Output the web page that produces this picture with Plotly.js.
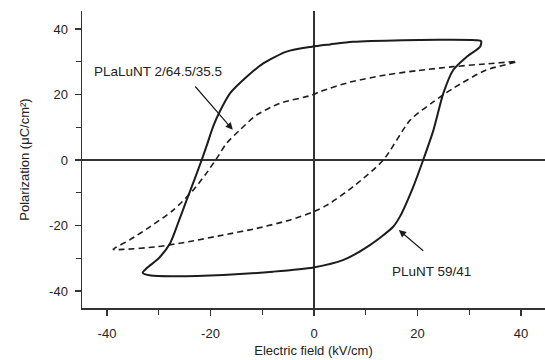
<!DOCTYPE html>
<html><head><meta charset="utf-8">
<script src="https://cdn.plot.ly/plotly-3.0.1.min.js"></script>
<style>html,body{margin:0;padding:0;background:#fff}#c{width:545px;height:360px}</style>
</head><body><div id="c"></div>
<script>
// PLuNT 59/41 (solid loop)
const pluntE = [32.3, 31.4, 24, 17.2, 7.5, 3.1, -0.4, -5.3, -9.8, -13, -16.2, -18.2, -19.5, -20.6, -21.7, -23.1, -24.6, -26.2, -27.8, -30.0, -32.3, -33.1, -31.5, -27.2, -17.5, -7.9, -0.1, 5.7, 10.8, 15.3, 16.6, 19.2, 21.1, 23.1, 25, 26.9, 29.5, 32.1, 32.3];
const pluntP = [36.3, 36.6, 36.7, 36.6, 36.1, 35.3, 34.6, 33.1, 29.5, 25.4, 20.4, 14.8, 10.2, 5.0, 0, -6.0, -12.2, -19.0, -25.4, -30.0, -33.0, -34.4, -35.3, -35.5, -35.1, -34.1, -32.8, -30.5, -26.0, -20.4, -17.3, -8.1, 0, 9.2, 20.4, 27.5, 31.5, 34.6, 36.3];
// PLaLuNT 2/64.5/35.5 (dashed loop)
const plalE = [39.2, 33, 26.9, 20, 14, 7, 1.2, -0.4, -6.6, -11.1, -14.3, -16.9, -18.8, -21.0, -23.5, -27.2, -31.7, -35.6, -38.8, -36.9, -30.4, -24, -17.5, -11.1, -4.6, -0.1, 2.5, 7.6, 13.4, 18.6, 23.1, 26.9, 33.3, 39.2];
const plalP = [30.0, 29.3, 28.5, 27.3, 26.0, 23.8, 20.9, 19.8, 17.3, 13.7, 9.2, 5.1, 0.5, -4.5, -9.5, -15.3, -20.4, -24.4, -27.3, -27.3, -26.5, -24.9, -22.9, -20.9, -18.3, -15.8, -13.8, -8.1, 0, 12.2, 17.8, 21.9, 27.5, 30.0];
const labels = ["PLaLuNT 2/64.5/35.5", "PLuNT 59/41"];
const labelPos = [[-42.9, 26.9], [14.7, -34.2]];
const arrowHead = [[-15.7, 9.2], [16.4, -21.4]];
const arrowTail = [[-23.2, 22.9], [21.4, -28.1]];
const xRange = [-44.83, 44.64];
const yRange = [-45.2, 45.5];

const ink = '#1c1c1c';
const traces = [
  {x: pluntE, y: pluntP, mode: 'lines', line: {color: ink, width: 2, shape: 'spline', smoothing: 0.7}, hoverinfo: 'skip'},
  {x: plalE, y: plalP, mode: 'lines', line: {color: ink, width: 1.6, dash: '6px,4px', shape: 'spline', smoothing: 0.7}, hoverinfo: 'skip'}
];
const fnt = {family: 'Liberation Sans, Arial, sans-serif', size: 13, color: '#222'};
const annotations = [];
for (let i = 0; i < labels.length; i++) {
  annotations.push({x: labelPos[i][0], y: labelPos[i][1], xref: 'x', yref: 'y', text: labels[i], showarrow: false, xanchor: 'left', yanchor: 'middle', font: {family: fnt.family, size: 13.5, color: '#222'}});
  annotations.push({x: arrowHead[i][0], y: arrowHead[i][1], ax: arrowTail[i][0], ay: arrowTail[i][1], xref: 'x', yref: 'y', axref: 'x', ayref: 'y', text: '', showarrow: true, arrowhead: 2, arrowsize: 1.2, arrowwidth: 1.2, arrowcolor: ink});
}
const baseAxis = {showgrid: false, showline: true, linecolor: '#333', linewidth: 1.5, ticks: 'outside', ticklen: 6, tickwidth: 1.2, tickcolor: '#333', dtick: 20, tick0: 0, zeroline: true, zerolinecolor: '#333', zerolinewidth: 1.5, tickfont: fnt, minor: {dtick: 10, tick0: 0, ticks: 'outside', ticklen: 5, tickcolor: '#333', tickwidth: 1.2}};
const layout = {
  width: 545, height: 360,
  margin: {l: 82, r: 0, t: 11, b: 52},
  paper_bgcolor: '#fff', plot_bgcolor: '#fff',
  showlegend: false,
  xaxis: Object.assign({}, baseAxis, {range: xRange, tickvals: [-40, -20, 0, 20, 40], ticktext: ['-40', '-20', '0', '20', '40'], ticklabelstandoff: 7, title: {text: 'Electric field (kV/cm)', font: fnt, standoff: 6}}),
  yaxis: Object.assign({}, baseAxis, {range: yRange, tickvals: [-40, -20, 0, 20, 40], ticktext: ['-40', '-20', '0', '20', '40'], ticklabelstandoff: 4, title: {text: 'Polarization (μC/cm²)', font: fnt, standoff: 16}}),
  xaxis2: {overlaying: 'x', side: 'top', range: xRange, showgrid: false, zeroline: false, showline: true, linecolor: '#333', linewidth: 1.5, ticks: 'inside', ticklen: 5, tickwidth: 1.2, tickcolor: '#333', dtick: 10, tick0: 0, showticklabels: false},
  yaxis2: {overlaying: 'y', side: 'right', range: yRange, showgrid: false, zeroline: false, showline: true, linecolor: '#333', linewidth: 1.5, ticks: 'inside', ticklen: 5, tickwidth: 1.2, tickcolor: '#333', dtick: 10, tick0: 0, showticklabels: false},
  annotations: annotations
};
Plotly.newPlot('c', traces, layout, {staticPlot: true, displayModeBar: false});
</script></body></html>
